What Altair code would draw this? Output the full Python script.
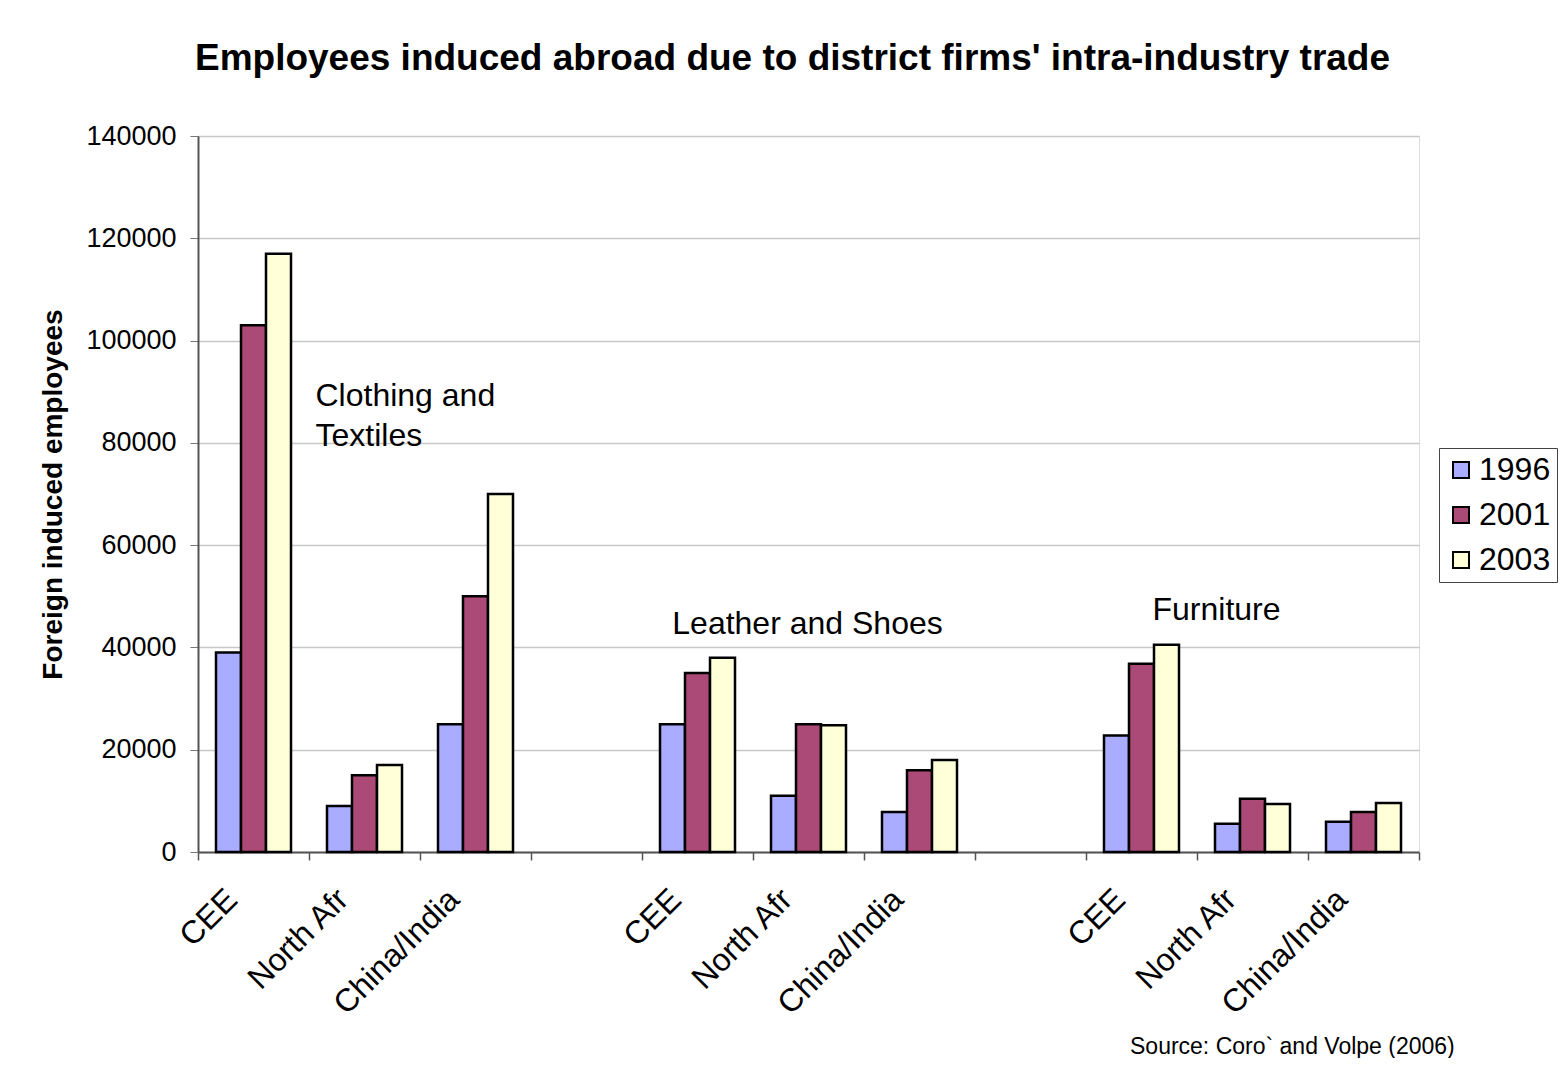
import altair as alt
import pandas as pd

# ---- data ----
slots = ["C1", "N1", "I1", "G1", "C2", "N2", "I2", "G2", "C3", "N3", "I3"]
slot_labels = ["CEE", "North Afr", "China/India", "", "CEE", "North Afr", "China/India", "",
               "CEE", "North Afr", "China/India"]
bar_slots = ["C1", "N1", "I1", "C2", "N2", "I2", "C3", "N3", "I3"]
years = ["1996", "2001", "2003"]
v1996 = [39000, 9000, 25000, 25000, 11000, 7800, 22800, 5500, 5900]
v2001 = [103000, 15000, 50000, 35000, 25000, 16000, 36800, 10400, 7800]
v2003 = [117000, 17000, 70000, 38000, 24800, 18000, 40500, 9400, 9600]
colors = ["#a9acff", "#ab4a76", "#ffffd8"]

ann_text = [["Clothing and", "Textiles"], ["Leather and Shoes"], ["Furniture"]]
ann_slot = ["N1", "N2", "N3"]
ann_value = [89200, 44600, 47300]

rows = []
for i, s in enumerate(bar_slots):
    for y, vals in zip(years, [v1996, v2001, v2003]):
        rows.append({"slot": s, "year": y, "value": vals[i]})
df = pd.DataFrame(rows)

label_map = "{" + ",".join(f"'{s}':'{l}'" for s, l in zip(slots, slot_labels)) + "}"

W, H = 1221, 716
FONT = "Liberation Sans"

xscale = alt.Scale(domain=slots, paddingInner=0, paddingOuter=0)
yscale = alt.Scale(domain=[0, 140000])

bars = alt.Chart(df).mark_bar(stroke="black", strokeWidth=2.5).encode(
    x=alt.X("slot:N", scale=xscale, sort=slots,
            axis=alt.Axis(title=None, labelExpr=f"{label_map}[datum.value]",
                          labelAngle=-45, labelAlign="right", labelBaseline="middle",
                          labelFontSize=32, labelFont=FONT, labelColor="black",
                          labelPadding=34, labelOffset=-22,
                          tickBand="extent", tickSize=8, tickColor="#555", tickWidth=1.5,
                          domainColor="#555", domainWidth=2, grid=False)),
    xOffset=alt.XOffset("year:N", scale=alt.Scale(paddingInner=0, paddingOuter=0.72)),
    y=alt.Y("value:Q", scale=yscale,
            axis=alt.Axis(title="Foreign induced employees", values=list(range(0, 140001, 20000)),
                          format="d", labelFontSize=27, labelFont=FONT, labelColor="black",
                          labelPadding=14, tickSize=8, tickColor="#777",
                          domainColor="#555", domainWidth=2,
                          gridColor="#c8c8c8", gridWidth=1.5,
                          titleFontSize=28, titleFont=FONT, titleFontWeight="bold",
                          titleColor="black", titlePadding=18)),
    color=alt.Color("year:N", scale=alt.Scale(domain=years, range=colors),
                    legend=alt.Legend(title=None, orient="none", legendX=1241, legendY=312,
                                      symbolType="square", symbolSize=256,
                                      symbolStrokeColor="black", symbolStrokeWidth=2,
                                      labelFontSize=32, labelFont=FONT, labelColor="black",
                                      rowPadding=13, padding=6, labelOffset=2,
                                      fillColor="white", strokeColor="#444")),
)

ann_style = [("left", -49), ("center", -1), ("center", -36)]
texts = []
for i in range(3):
    d = pd.DataFrame({"slot": [ann_slot[i]], "value": [ann_value[i]], "text": [ann_text[i]]})
    align, dx = ann_style[i]
    texts.append(
        alt.Chart(d).mark_text(fontSize=32, font=FONT, color="black", lineHeight=40,
                               baseline="middle", align=align, dx=dx).encode(
            x=alt.X("slot:N", scale=xscale, sort=slots),
            y=alt.Y("value:Q", scale=yscale),
            text="text:N",
        )
    )

source = alt.Chart(pd.DataFrame({"t": ["Source: Coro` and Volpe (2006)"]})).mark_text(
    fontSize=23, font=FONT, color="black", align="left", baseline="alphabetic"
).encode(x=alt.value(932), y=alt.value(1054 - 136), text="t:N")

chart = alt.layer(bars, *texts, source).properties(
    width=W, height=H,
    title=alt.TitleParams("Employees induced abroad due to district firms' intra-industry trade",
                          fontSize=37, font=FONT, fontWeight="bold", color="black",
                          anchor="middle", frame="group", dx=-16, offset=44),
    autosize=alt.AutoSizeParams(type="none"),
    padding={"left": 190, "top": 128, "right": 140, "bottom": 206},
).configure_view(stroke="#a0a0a0", strokeWidth=2).configure(background="white")

chart.save("out.html", embed_options={"renderer": "svg", "actions": False})
